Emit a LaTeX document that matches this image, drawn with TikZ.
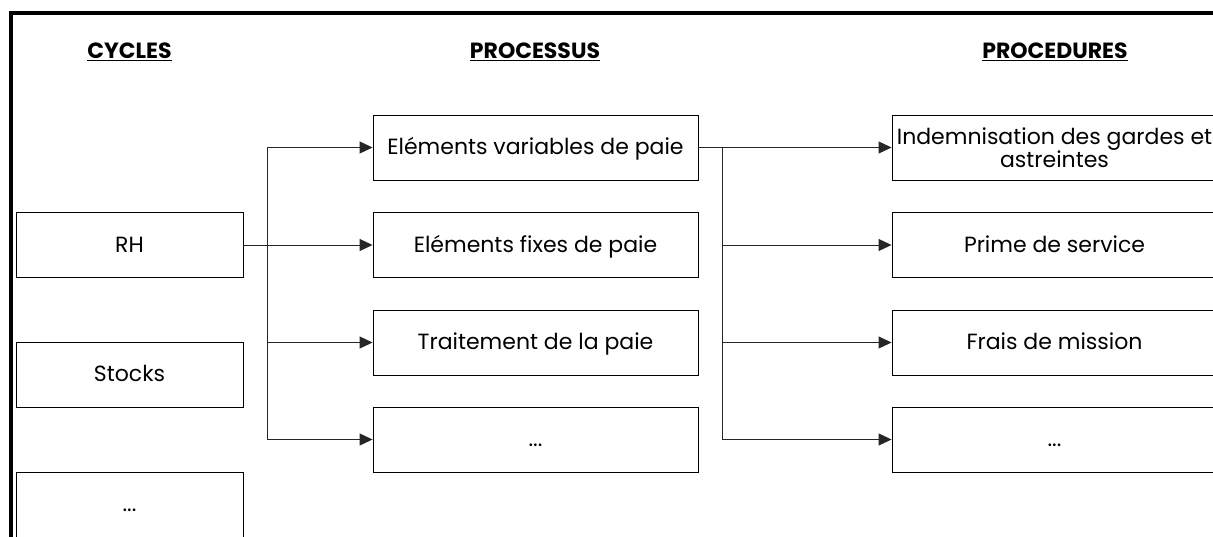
\documentclass[tikz,border=0pt]{standalone}
\usepackage{fontspec}
\setmainfont{Poppins}
\usetikzlibrary{arrows.meta}
\begin{document}
\begin{tikzpicture}[x=1pt,y=-1pt,
  box/.style={draw=black, line width=0.9pt, rectangle, inner sep=0pt, align=center,
    font=\fontsize{22}{23}\selectfont},
  one/.style={text height=16pt, text depth=2pt},
  lbox/.style={box, one, minimum width=227pt, minimum height=65pt},
  mbox/.style={box, minimum width=325pt, minimum height=65pt},
  hdr/.style={font=\fontsize{22}{24}\selectfont\bfseries, inner sep=0pt},
  conn/.style={draw=black!85, line width=0.9pt},
  arr/.style={conn, -{Triangle[length=13pt, width=12pt]}}
]
\useasboundingbox (0,0) rectangle (1213,536);
\fill[white] (0,0) rectangle (1213,536);
% frame
\draw[line width=4pt] (11,540) -- (11,13) -- (1220,13);
% headers
\node[hdr] (hc) at (129.5,52) {\underline{CYCLES}};
\node[hdr] (hp) at (535,52) {\underline{PROCESSUS}};
\node[hdr] (hr) at (1055,52) {\underline{PROCEDURES}};
% left column
\node[lbox] (rh) at (129.5,245) {RH};
\node[lbox] (st) at (129.5,374.5) {Stocks};
\node[lbox] (ld) at (129.5,504.5) {...};
% middle column
\node[mbox, one] (m1) at (535.5,147.5) {Eléments variables de paie};
\node[mbox, one] (m2) at (535.5,245) {Eléments fixes de paie};
\node[mbox, one] (m3) at (535.5,342.5) {Traitement de la paie};
\node[mbox, one] (m4) at (535.5,439.5) {...};
% right column
\node[mbox] (r1) at (1054.5,147.5) {Indemnisation des gardes et\\astreintes};
\node[mbox, one] (r2) at (1054.5,245) {Prime de service};
\node[mbox, one] (r3) at (1054.5,342.5) {Frais de mission};
\node[mbox, one] (r4) at (1054.5,439.5) {...};
% junctions
\coordinate (jl) at (267,245);
\coordinate (jr) at (722,245);
% left connectors
\draw[conn] (jl |- m1.west) -- (jl |- m4.west);
\draw[arr] (rh.east) -- (m2.west);
\draw[arr] (jl |- m1.west) -- (m1.west);
\draw[arr] (jl |- m3.west) -- (m3.west);
\draw[arr] (jl |- m4.west) -- (m4.west);
% right connectors
\draw[conn] (m1.east) -- (jr |- m1.east) -- (jr |- r4.west);
\draw[arr] (jr |- r1.west) -- (r1.west);
\draw[arr] (jr |- r2.west) -- (r2.west);
\draw[arr] (jr |- r3.west) -- (r3.west);
\draw[arr] (jr |- r4.west) -- (r4.west);
\end{tikzpicture}
\end{document}
